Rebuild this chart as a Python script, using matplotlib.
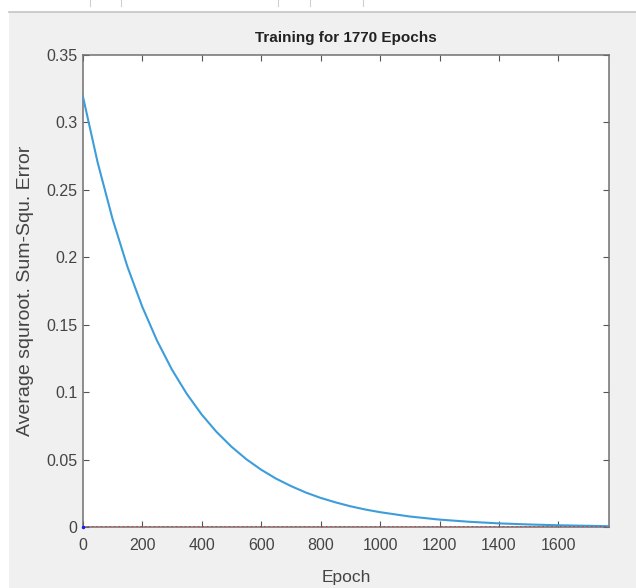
import numpy as np
import matplotlib.pyplot as plt
from matplotlib.lines import Line2D
from matplotlib.patches import Rectangle

plt.rcParams['font.family'] = ['Liberation Sans', 'DejaVu Sans']

# performance curve
epochs = [0, 50, 100, 150, 200, 250, 300, 350, 400, 450, 500, 550, 600, 650,
          700, 750, 800, 850, 900, 950, 1000, 1100, 1200, 1300, 1400, 1500,
          1600, 1700, 1770]
perf = [0.3200, 0.2706, 0.2288, 0.1934, 0.1636, 0.1383, 0.1169, 0.0989,
        0.0836, 0.0707, 0.0598, 0.0505, 0.0427, 0.0361, 0.0306, 0.0258,
        0.0218, 0.0185, 0.0156, 0.0132, 0.0112, 0.0080, 0.0057, 0.0041,
        0.0029, 0.0021, 0.0015, 0.0011, 0.0008]
goal_epochs = [0, 1770]
goal = [0, 0]

xticks = [0, 200, 400, 600, 800, 1000, 1200, 1400, 1600]
yticks = [0, 0.05, 0.1, 0.15, 0.2, 0.25, 0.3, 0.35]
ytick_labels = ['0', '0.05', '0.1', '0.15', '0.2', '0.25', '0.3', '0.35']

W, H = 636, 588
fig = plt.figure(figsize=(W / 100, H / 100), dpi=100, facecolor='white')

# grey window background with a thin border line at the top
fig.patches.append(Rectangle((9 / W, 0), 1 - 9 / W, (H - 12) / H,
                             transform=fig.transFigure, facecolor='#f0f0f0',
                             edgecolor='none', zorder=-10))
fig.lines.append(Line2D([9 / W, 1], [(H - 11.5) / H] * 2, transform=fig.transFigure,
                        color='#c4c4c4', lw=1.2))
for px in [90, 121, 278, 310, 363]:
    fig.lines.append(Line2D([px / W] * 2, [(H - 6) / H, 1], transform=fig.transFigure,
                            color='#d0d0d0', lw=0.8))

ax = fig.add_axes([82.7 / W, 60.7 / H, 526.3 / W, 472.3 / H])
ax.set_facecolor('white')

ax.plot(epochs, perf, color='#3d9ddb', lw=1.5, zorder=3)
ax.plot(goal_epochs, goal, color='#e03030', ls=':', lw=1.2, zorder=4)
ax.plot([0], [0], marker='.', color='#1a1aff', ms=3, zorder=5, clip_on=False)

ax.set_xlim(0, 1770)
ax.set_ylim(0, 0.35)
ax.set_xticks(xticks)
ax.set_yticks(yticks)
ax.set_yticklabels(ytick_labels)

ax.tick_params(direction='in', length=4, width=0.8, colors='#555555',
               labelcolor='#444444', labelsize=11.5, top=True, right=True)
ax.tick_params(axis='x', pad=8)
ax.tick_params(axis='y', pad=4)
for s in ax.spines.values():
    s.set_color('#707070')
    s.set_linewidth(1.1)

ax.set_title('Training for 1770 Epochs', fontsize=11, fontweight='bold',
             color='#222222', y=1.037, va='center', pad=0)
ax.set_xlabel('Epoch', fontsize=12.5, color='#444444')
ax.set_ylabel('Average squroot. Sum-Squ. Error', fontsize=14, color='#444444')
ax.xaxis.set_label_coords(0.5, -0.107)
ax.yaxis.set_label_coords(-0.108, 0.5)
ax.xaxis.label.set_va('center')
ax.yaxis.label.set_va('center')

fig.savefig('out.png', dpi=100, facecolor=fig.get_facecolor())
